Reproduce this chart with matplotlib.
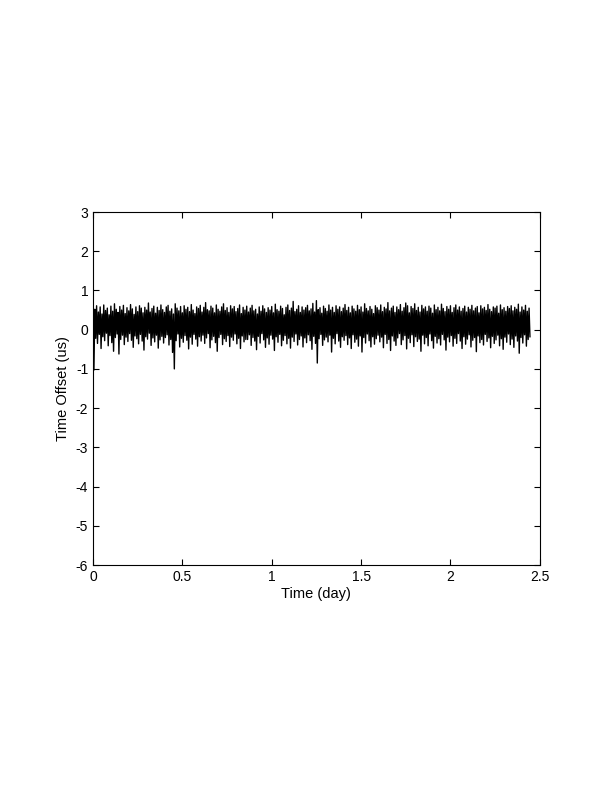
import numpy as np
import matplotlib
matplotlib.use("Agg")
from matplotlib import pyplot as plt

# time bins (day), 0.01 day apart
time_day = np.round(np.arange(245) * 0.01, 2)

# upper envelope of the offset in each bin (us)
offset_hi = [
    1.27, 0.52, 0.61, 0.45, 0.58, 0.40, 0.63, 0.49, 0.55, 0.38, 0.60, 0.47, 0.66, 0.52, 0.44, 0.59, 0.50, 0.62, 0.41, 0.56,
    0.48, 0.64, 0.53, 0.39, 0.58, 0.46, 0.61, 0.55, 0.43, 0.57, 0.50, 0.68, 0.45, 0.54, 0.60, 0.42, 0.57, 0.49, 0.63, 0.51,
    0.44, 0.58, 0.62, 0.47, 0.53, 0.40, 0.66, 0.55, 0.48, 0.59, 0.43, 0.61, 0.52, 0.57, 0.46, 0.64, 0.50, 0.41, 0.58, 0.54,
    0.62, 0.45, 0.57, 0.69, 0.51, 0.48, 0.60, 0.55, 0.43, 0.63, 0.52, 0.47, 0.58, 0.66, 0.49, 0.56, 0.44, 0.61, 0.53, 0.59,
    0.46, 0.54, 0.63, 0.41, 0.57, 0.50, 0.60, 0.45, 0.55, 0.62, 0.48, 0.52, 0.40, 0.58, 0.47, 0.61, 0.53, 0.44, 0.56, 0.50,
    0.59, 0.43, 0.65, 0.51, 0.47, 0.60, 0.54, 0.38, 0.57, 0.63, 0.49, 0.55, 0.72, 0.46, 0.52, 0.61, 0.44, 0.58, 0.50, 0.56,
    0.62, 0.48, 0.53, 0.67, 0.45, 0.74, 0.51, 0.56, 0.42, 0.60, 0.54, 0.47, 0.63, 0.50, 0.57, 0.44, 0.61, 0.52, 0.58, 0.46,
    0.55, 0.64, 0.49, 0.57, 0.43, 0.60, 0.53, 0.47, 0.62, 0.51, 0.58, 0.45, 0.66, 0.54, 0.48, 0.59, 0.52, 0.41, 0.61, 0.56,
    0.50, 0.63, 0.46, 0.57, 0.53, 0.69, 0.48, 0.55, 0.60, 0.44, 0.58, 0.51, 0.64, 0.47, 0.56, 0.68, 0.61, 0.43, 0.59, 0.54,
    0.66, 0.49, 0.57, 0.45, 0.62, 0.53, 0.58, 0.47, 0.60, 0.55, 0.42, 0.63, 0.51, 0.57, 0.48, 0.65, 0.54, 0.46, 0.59, 0.52,
    0.61, 0.44, 0.56, 0.63, 0.50, 0.58, 0.47, 0.54, 0.60, 0.45, 0.57, 0.52, 0.62, 0.48, 0.55, 0.59, 0.43, 0.61, 0.53, 0.57,
    0.49, 0.64, 0.52, 0.46, 0.58, 0.55, 0.60, 0.42, 0.63, 0.51, 0.56, 0.47, 0.59, 0.54, 0.61, 0.48, 0.57, 0.52, 0.65, 0.45,
    0.58, 0.50, 0.62, 0.47, 0.55,
]

# lower envelope of the offset in each bin (us)
offset_lo = [
    -1.03, -0.22, -0.35, -0.12, -0.48, -0.18, -0.28, -0.09, -0.41, -0.15, -0.33, -0.55, -0.20, -0.11, -0.62, -0.25, -0.14, -0.38, -0.19, -0.30,
    -0.10, -0.27, -0.45, -0.16, -0.23, -0.36, -0.12, -0.29, -0.52, -0.18, -0.24, -0.09, -0.40, -0.21, -0.31, -0.14, -0.47, -0.26, -0.17, -0.34,
    -0.20, -0.13, -0.39, -0.25, -0.58, -1.00, -0.28, -0.11, -0.44, -0.22, -0.32, -0.15, -0.27, -0.49, -0.19, -0.37, -0.12, -0.24, -0.42, -0.18,
    -0.29, -0.14, -0.35, -0.21, -0.10, -0.46, -0.26, -0.17, -0.33, -0.55, -0.20, -0.12, -0.38, -0.23, -0.30, -0.15, -0.43, -0.19, -0.27, -0.11,
    -0.36, -0.22, -0.48, -0.16, -0.31, -0.25, -0.25, -0.13, -0.40, -0.20, -0.29, -0.51, -0.17, -0.34, -0.10, -0.26, -0.45, -0.21, -0.37, -0.14,
    -0.24, -0.53, -0.18, -0.32, -0.12, -0.41, -0.27, -0.15, -0.36, -0.22, -0.47, -0.19, -0.30, -0.11, -0.39, -0.25, -0.16, -0.44, -0.21, -0.33,
    -0.13, -0.28, -0.50, -0.17, -0.35, -0.85, -0.23, -0.12, -0.40, -0.26, -0.19, -0.31, -0.14, -0.57, -0.22, -0.36, -0.10, -0.29, -0.45, -0.18,
    -0.27, -0.15, -0.38, -0.21, -0.48, -0.13, -0.32, -0.24, -0.42, -0.16, -0.57, -0.20, -0.34, -0.11, -0.28, -0.44, -0.18, -0.37, -0.23, -0.14,
    -0.31, -0.19, -0.46, -0.12, -0.35, -0.25, -0.53, -0.16, -0.29, -0.40, -0.21, -0.10, -0.38, -0.26, -0.15, -0.49, -0.22, -0.33, -0.13, -0.43,
    -0.18, -0.30, -0.24, -0.55, -0.14, -0.36, -0.20, -0.41, -0.11, -0.28, -0.47, -0.17, -0.34, -0.23, -0.39, -0.12, -0.26, -0.52, -0.19, -0.31,
    -0.15, -0.42, -0.22, -0.35, -0.10, -0.29, -0.48, -0.18, -0.37, -0.24, -0.13, -0.44, -0.27, -0.20, -0.56, -0.16, -0.33, -0.25, -0.39, -0.12,
    -0.30, -0.21, -0.46, -0.17, -0.35, -0.26, -0.14, -0.41, -0.23, -0.50, -0.19, -0.32, -0.11, -0.38, -0.24, -0.45, -0.16, -0.29, -0.60, -0.20,
    -0.34, -0.13, -0.42, -0.25, -0.18,
]

x_ticks = [0, 0.5, 1, 1.5, 2, 2.5]
x_tick_labels = ["0", "0.5", "1", "1.5", "2", "2.5"]
y_ticks = [-6, -5, -4, -3, -2, -1, 0, 1, 2, 3]

# interleave the envelopes into one trace
t = np.empty(2 * len(time_day))
y = np.empty(2 * len(time_day))
t[0::2] = time_day
t[1::2] = time_day + 0.005
y[0::2] = offset_hi
y[1::2] = offset_lo

plt.rcParams["font.family"] = ["Liberation Sans", "DejaVu Sans"]
plt.rcParams["axes.unicode_minus"] = False
fig = plt.figure(figsize=(6.12, 7.92), dpi=100)
ax = fig.add_axes([0.152, 0.2866, 0.73, 0.4457])
ax.plot(t, y, color="black", linewidth=1.0)

ax.set_xlim(0, 2.5)
ax.set_ylim(-6, 3)
ax.set_xticks(x_ticks)
ax.set_xticklabels(x_tick_labels)
ax.set_yticks(y_ticks)
ax.tick_params(direction="in", top=True, right=True, length=4, width=0.8, labelsize=10)
for s in ax.spines.values():
    s.set_linewidth(0.8)
ax.set_xlabel("Time (day)", fontsize=10.5, labelpad=2)
ax.set_ylabel("Time Offset (us)", fontsize=10.5, labelpad=4)

fig.savefig("out.png", dpi=100)
